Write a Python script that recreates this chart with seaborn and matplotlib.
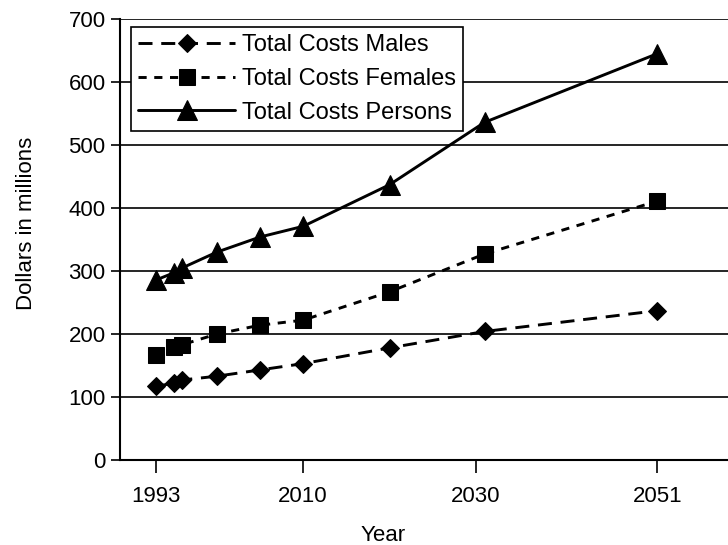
import matplotlib
matplotlib.use('Agg')
import matplotlib.pyplot as plt
import pandas as pd
import seaborn as sns

# data
years = [1993, 1995, 1996, 2000, 2005, 2010, 2020, 2031, 2051]
males = [117, 122, 127, 133, 143, 153, 178, 204, 237]
females = [167, 180, 183, 200, 214, 222, 267, 327, 411]
persons = [286, 297, 305, 330, 354, 371, 437, 536, 645]

series_names = ['Total Costs Males', 'Total Costs Females', 'Total Costs Persons']
tick_years = [1993, 2010, 2030, 2051]

df = pd.DataFrame({
    'Year': years * 3,
    'Cost': males + females + persons,
    'Series': [n for n in series_names for _ in years],
})

sns.set_theme(style='ticks')
plt.rcParams['font.family'] = ['Liberation Sans', 'DejaVu Sans']
for k in ['text.color', 'axes.labelcolor', 'xtick.color', 'ytick.color']:
    plt.rcParams[k] = 'black'

fig = plt.figure(figsize=(7.28, 5.45), dpi=100)
ax = fig.add_axes([0.165, 0.156, 0.835, 0.809])

styles = {
    'Total Costs Males': dict(marker='D', ms=9.5, dashes=(4.8, 3.0)),
    'Total Costs Females': dict(marker='s', ms=11, dashes=(2.8, 2.6)),
    'Total Costs Persons': dict(marker='^', ms=15, dashes=()),
}

for name in series_names:
    st = styles[name]
    sub = df[df['Series'] == name]
    sns.lineplot(data=sub, x='Year', y='Cost', ax=ax, color='black',
                 lw=2.1, marker=st['marker'], ms=st['ms'],
                 markeredgecolor='black', label=name, zorder=3)
    ln = ax.lines[-1]
    if st['dashes']:
        ln.set_dashes(st['dashes'])

ax.set_xlim(1988.8, 2059.2)
ax.set_ylim(0, 700)
ax.set_yticks(range(0, 701, 100))
ax.set_xticks(tick_years)
ax.set_xticklabels([str(y) for y in tick_years])

for v in range(100, 701, 100):
    ax.axhline(v, color='black', lw=1.2, zorder=1)

for s in ['top', 'right']:
    ax.spines[s].set_visible(False)
for s in ['left', 'bottom']:
    ax.spines[s].set_color('black')
    ax.spines[s].set_linewidth(1.5)

ax.tick_params(axis='y', length=6.5, width=1.2, labelsize=16, pad=4)
ax.tick_params(axis='x', length=9.5, width=1.2, labelsize=16, pad=9)
ax.set_xlabel('Year', fontsize=16)
ax.set_ylabel('Dollars in millions', fontsize=16)
ax.xaxis.set_label_coords(0.433, -0.148)
ax.yaxis.set_label_coords(-0.137, 0.537)

leg = ax.legend(loc='upper left', bbox_to_anchor=(0.018, 0.982), fontsize=17,
                handlelength=4.1, handletextpad=0.3, labelspacing=0.5,
                frameon=True, fancybox=False, borderpad=0.3,
                borderaxespad=0)
leg.get_frame().set_edgecolor('black')
leg.get_frame().set_linewidth(1.2)
leg.get_frame().set_alpha(1)

fig.savefig('out.png', dpi=100)
